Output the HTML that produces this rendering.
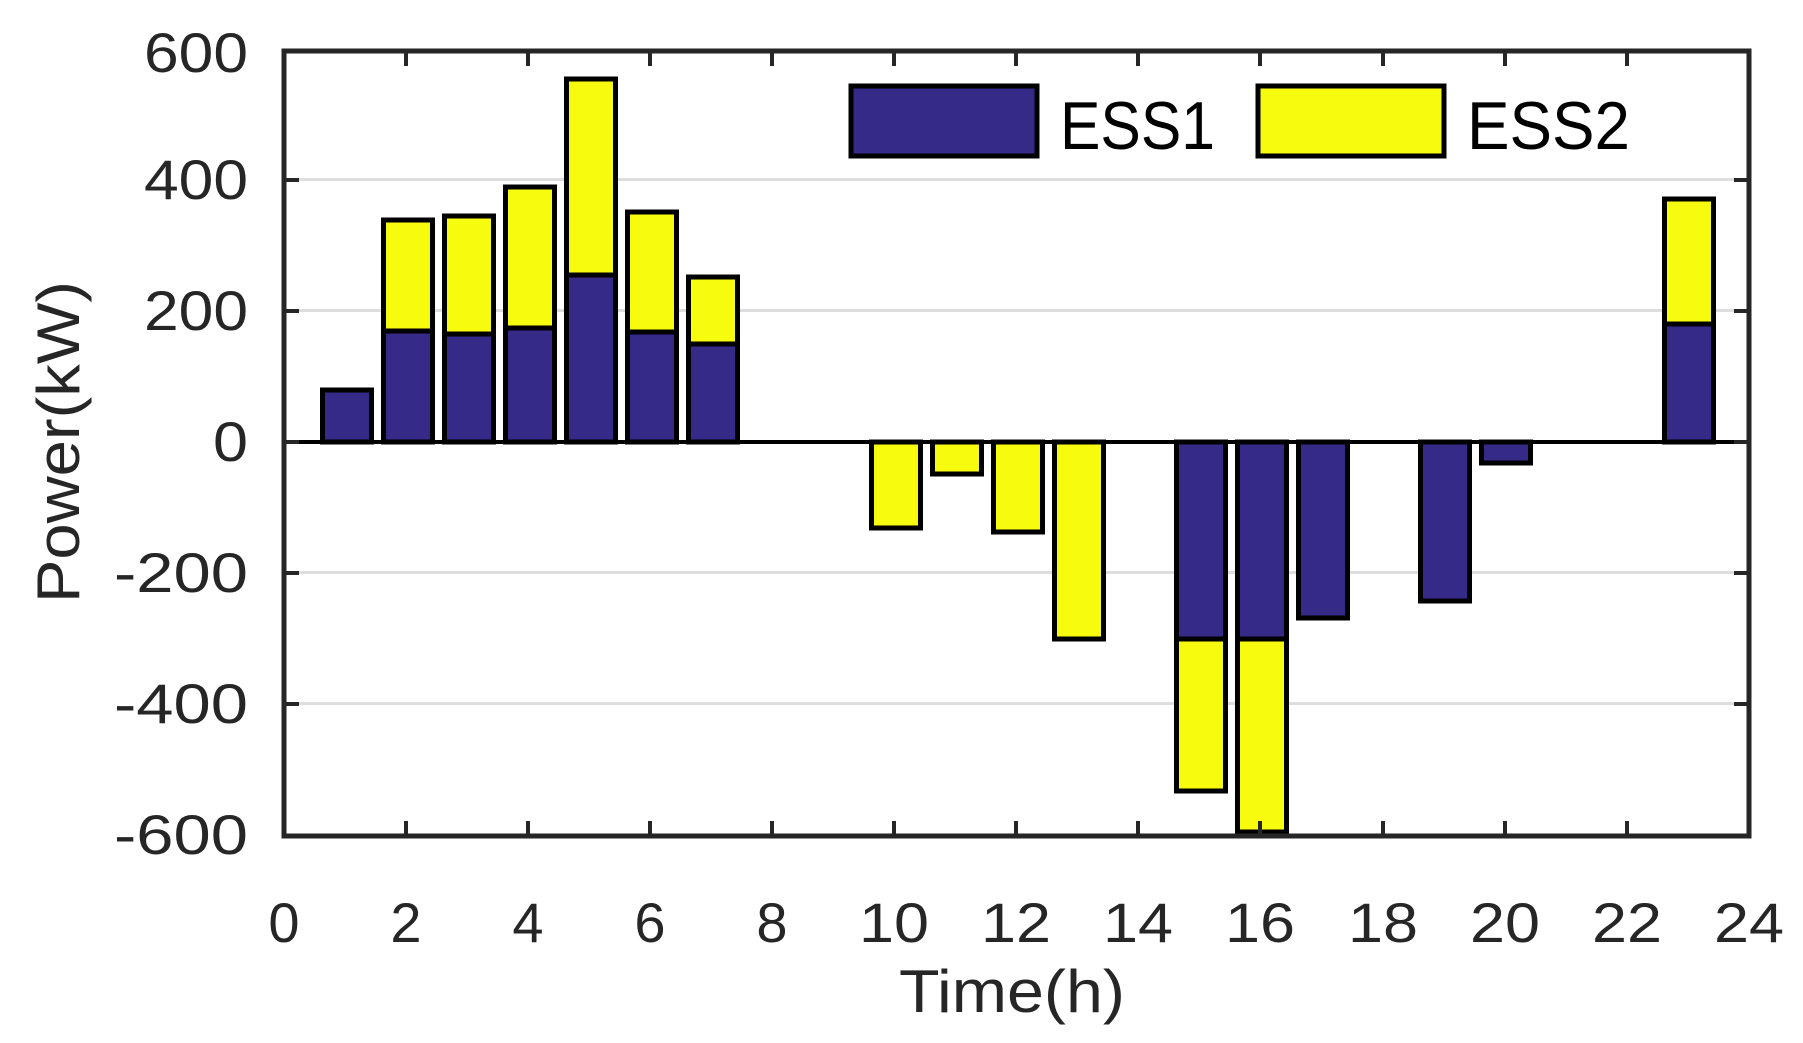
<!DOCTYPE html>
<html><head><meta charset="utf-8"><style>html,body{margin:0;padding:0;background:#fff}svg{display:block}</style></head>
<body>
<svg width="1803" height="1043" viewBox="0 0 1803 1043" xmlns="http://www.w3.org/2000/svg" font-family="Liberation Sans, Arial, sans-serif" fill="#262626">
<rect width="1803" height="1043" fill="#fff"/>
<g stroke="#dedede" stroke-width="3">
<line x1="284" y1="179.5" x2="1749" y2="179.5"/>
<line x1="284" y1="310.5" x2="1749" y2="310.5"/>
<line x1="284" y1="572.5" x2="1749" y2="572.5"/>
<line x1="284" y1="703.5" x2="1749" y2="703.5"/>
</g>
<rect x="822" y="54" width="838" height="124" fill="#fff"/>
<line x1="284" y1="442" x2="1749" y2="442" stroke="#000" stroke-width="4"/>
<g stroke="#000" stroke-width="5" stroke-linejoin="miter">
<rect x="322.5" y="390" width="49" height="52" fill="#352a87"/>
<rect x="383.5" y="331" width="49" height="111" fill="#352a87"/><rect x="383.5" y="220" width="49" height="111" fill="#f7fb0e"/>
<rect x="444.5" y="334" width="49" height="108" fill="#352a87"/><rect x="444.5" y="216" width="49" height="118" fill="#f7fb0e"/>
<rect x="505.5" y="328" width="49" height="114" fill="#352a87"/><rect x="505.5" y="187" width="49" height="141" fill="#f7fb0e"/>
<rect x="566.5" y="275" width="49" height="167" fill="#352a87"/><rect x="566.5" y="79" width="49" height="196" fill="#f7fb0e"/>
<rect x="627.5" y="332" width="49" height="110" fill="#352a87"/><rect x="627.5" y="212" width="49" height="120" fill="#f7fb0e"/>
<rect x="688.5" y="344" width="49" height="98" fill="#352a87"/><rect x="688.5" y="277" width="49" height="67" fill="#f7fb0e"/>
<rect x="871.5" y="442" width="49" height="86" fill="#f7fb0e"/>
<rect x="932.5" y="442" width="49" height="32" fill="#f7fb0e"/>
<rect x="993.5" y="442" width="49" height="90" fill="#f7fb0e"/>
<rect x="1054.5" y="442" width="49" height="197" fill="#f7fb0e"/>
<rect x="1176.5" y="442" width="49" height="197" fill="#352a87"/><rect x="1176.5" y="639" width="49" height="152" fill="#f7fb0e"/>
<rect x="1237.5" y="442" width="49" height="197" fill="#352a87"/><rect x="1237.5" y="639" width="49" height="193" fill="#f7fb0e"/>
<rect x="1298.5" y="442" width="49" height="176" fill="#352a87"/>
<rect x="1420.5" y="442" width="49" height="159" fill="#352a87"/>
<rect x="1481.5" y="442" width="49" height="21" fill="#352a87"/>
<rect x="1664.5" y="324" width="49" height="118" fill="#352a87"/><rect x="1664.5" y="199" width="49" height="125" fill="#f7fb0e"/>
</g>
<rect x="284" y="51" width="1465" height="785" fill="none" stroke="#262626" stroke-width="5"/>
<g stroke="#262626" stroke-width="4">
<path d="M406 836v-15M528 836v-15M650 836v-15M772 836v-15M894 836v-15M1016 836v-15M1138 836v-15M1260 836v-15M1383 836v-15M1505 836v-15M1627 836v-15"/>
<path d="M406 51v15M528 51v15M650 51v15M772 51v15M894 51v15M1016 51v15M1138 51v15M1260 51v15M1383 51v15M1505 51v15M1627 51v15"/>
<path d="M284 180h15M284 311h15M284 442h15M284 573h15M284 704h15"/>
<path d="M1749 180h-15M1749 311h-15M1749 442h-15M1749 573h-15M1749 704h-15"/>
</g>
<g font-size="56" text-anchor="end">
<text x="248" y="72" textLength="104" lengthAdjust="spacingAndGlyphs">600</text>
<text x="248" y="199" textLength="104" lengthAdjust="spacingAndGlyphs">400</text>
<text x="248" y="330" textLength="104" lengthAdjust="spacingAndGlyphs">200</text>
<text x="248" y="461" textLength="35" lengthAdjust="spacingAndGlyphs">0</text>
<text x="248" y="592" textLength="134" lengthAdjust="spacingAndGlyphs">-200</text>
<text x="248" y="723" textLength="134" lengthAdjust="spacingAndGlyphs">-400</text>
<text x="248" y="854" textLength="134" lengthAdjust="spacingAndGlyphs">-600</text>
</g>
<g font-size="56" text-anchor="middle">
<text x="284" y="942">0</text><text x="406" y="942">2</text><text x="528" y="942">4</text><text x="650" y="942">6</text><text x="772" y="942">8</text>
<text x="894" y="942" textLength="70" lengthAdjust="spacingAndGlyphs">10</text><text x="1016" y="942" textLength="70" lengthAdjust="spacingAndGlyphs">12</text><text x="1138" y="942" textLength="70" lengthAdjust="spacingAndGlyphs">14</text><text x="1260" y="942" textLength="70" lengthAdjust="spacingAndGlyphs">16</text><text x="1383" y="942" textLength="70" lengthAdjust="spacingAndGlyphs">18</text><text x="1505" y="942" textLength="70" lengthAdjust="spacingAndGlyphs">20</text><text x="1627" y="942" textLength="70" lengthAdjust="spacingAndGlyphs">22</text><text x="1749" y="942" textLength="70" lengthAdjust="spacingAndGlyphs">24</text>
</g>
<text x="1012" y="1012" font-size="60" text-anchor="middle" textLength="226" lengthAdjust="spacingAndGlyphs">Time(h)</text>
<text transform="translate(79 442) rotate(-90)" font-size="60" text-anchor="middle" textLength="322" lengthAdjust="spacingAndGlyphs">Power(kW)</text>
<rect x="851" y="86" width="186" height="70" fill="#352a87" stroke="#000" stroke-width="5"/>
<rect x="1258" y="86" width="186" height="70" fill="#f7fb0e" stroke="#000" stroke-width="5"/>
<g font-size="68" fill="#000">
<text x="1060" y="149" textLength="155" lengthAdjust="spacingAndGlyphs">ESS1</text>
<text x="1467" y="149" textLength="163" lengthAdjust="spacingAndGlyphs">ESS2</text>
</g>
</svg>
</body></html>
